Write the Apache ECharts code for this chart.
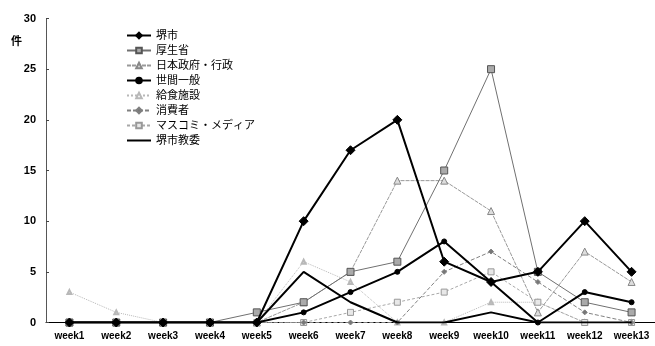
<!DOCTYPE html>
<html>
<head>
<meta charset="utf-8">
<script src="https://cdn.jsdelivr.net/npm/echarts@6/dist/echarts.min.js"></script>
<style>
html, body { margin: 0; padding: 0; background: #fff; }
#chart { width: 655px; height: 346px; }
</style>
</head>
<body>
<div id="chart"></div>
<script>
// Weekly counts per source
const weeks = ['week1','week2','week3','week4','week5','week6','week7','week8','week9','week10','week11','week12','week13'];
const sakaiCity   = [0, 0, 0, 0, 0, 10, 17, 20, 6, 4, 5, 10, 5];
const mhlw        = [0, 0, 0, 0, 1, 2, 5, 6, 15, 25, 5, 2, 1];
const government  = [0, 0, 0, 0, 0, 2, 5, 14, 14, 11, 1, 7, 4];
const publicAtLarge = [0, 0, 0, 0, 0, 1, 3, 5, 8, 4, 0, 3, 2];
const schoolMeals = [3, 1, 0, 0, 0, 6, 4, 0, 0, 2, 2, 0, 0];
const consumers   = [0, 0, 0, 0, 0, 0, 0, 0, 5, 7, 4, 1, 0];
const media       = [0, 0, 0, 0, 0, 0, 1, 2, 3, 5, 2, 0, 0];
const sakaiBoard  = [0, 0, 0, 0, 0, 5, 2, 0, 0, 1, 0, 0, 0];
const yTicks = [0, 5, 10, 15, 20, 25, 30];

const FONT = "'Liberation Sans', 'Noto Sans CJK JP', sans-serif";
const chart = echarts.init(document.getElementById('chart'), null, { renderer: 'canvas' });

function line(name, data, o) {
  return {
    name: name,
    type: 'line',
    data: data,
    symbol: o.symbol || 'circle',
    symbolSize: o.size || 6,
    showSymbol: !!o.symbol,
    z: o.z || 2,
    lineStyle: { color: o.color, width: o.width || 1, type: o.type || 'solid' },
    itemStyle: { color: o.fill || o.color, borderColor: o.border || o.color, borderWidth: o.bw || 1 },
    emphasis: { disabled: true },
    animation: false
  };
}

chart.setOption({
  animation: false,
  textStyle: { fontFamily: FONT },
  grid: { left: 46, top: 18.5, width: 613, height: 304 },
  legend: {
    orient: 'vertical',
    left: 121, top: 25,
    itemWidth: 24, itemHeight: 7, itemGap: 4,
    textStyle: { fontSize: 11, color: '#000', fontFamily: FONT, lineHeight: 11 },
    data: ['堺市','厚生省','日本政府・行政','世間一般','給食施設','消費者','マスコミ・メディア',
      { name: '堺市教委', itemStyle: { opacity: 0 } }]
  },
  graphic: [{
    type: 'text', left: 11, top: 36,
    style: { text: '件', font: 'bold 11px ' + FONT, fill: '#000' }
  }],
  xAxis: {
    type: 'category',
    data: weeks,
    boundaryGap: true,
    axisLine: { lineStyle: { color: '#000', width: 1 } },
    axisTick: { inside: true, length: 3, lineStyle: { color: '#000' } },
    axisLabel: { margin: 9, fontSize: 10, fontWeight: 'bold', color: '#000', fontFamily: FONT }
  },
  yAxis: {
    type: 'value',
    min: yTicks[0], max: yTicks[yTicks.length - 1], interval: 5,
    splitLine: { show: false },
    axisLine: { show: true, lineStyle: { color: '#444', width: 1, type: 'dotted' } },
    axisTick: { show: true, inside: true, length: 3, lineStyle: { color: '#444' } },
    axisLabel: { margin: 10, fontSize: 11, fontWeight: 'bold', color: '#000', fontFamily: FONT }
  },
  series: [
    line('給食施設', schoolMeals, { color: '#b8b8b8', type: 'dotted', symbol: 'emptyTriangle', size: 4, z: 1 }),
    line('マスコミ・メディア', media, { color: '#a8a8a8', type: [3, 2], symbol: 'rect', size: 6, fill: '#e8e8e8', border: '#999', z: 2 }),
    line('消費者', consumers, { color: '#808080', type: [4, 2], symbol: 'diamond', size: 5, fill: '#777', z: 3 }),
    line('日本政府・行政', government, { color: '#999', type: [4, 1], symbol: 'triangle', size: 7, fill: '#ddd', border: '#888', z: 4 }),
    line('厚生省', mhlw, { color: '#707070', symbol: 'rect', size: 7, fill: '#aaa', border: '#555', z: 5 }),
    line('堺市教委', sakaiBoard, { color: '#000', width: 2, z: 6 }),
    line('世間一般', publicAtLarge, { color: '#000', width: 2, symbol: 'circle', size: 5, z: 7 }),
    line('堺市', sakaiCity, { color: '#000', width: 2, symbol: 'diamond', size: 9, z: 8 })
  ]
});
</script>
</body>
</html>
